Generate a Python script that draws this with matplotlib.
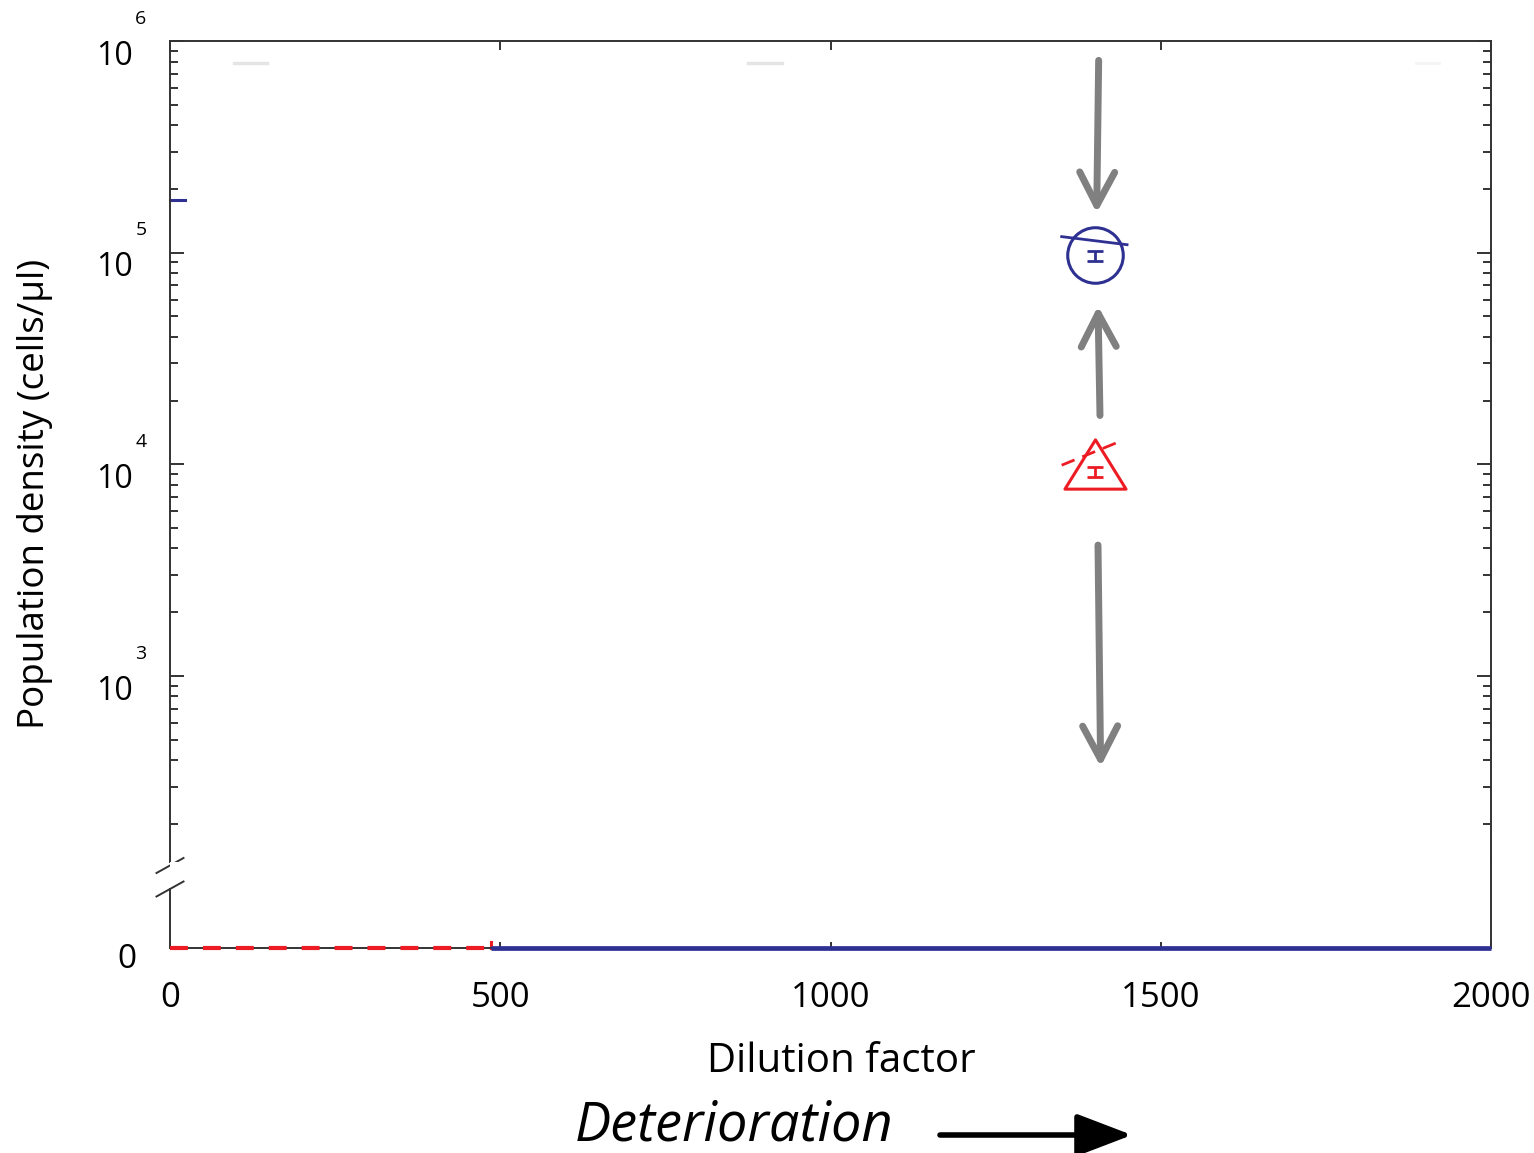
import numpy as np
import matplotlib
matplotlib.use("Agg")
import matplotlib.pyplot as plt
from matplotlib.path import Path
from matplotlib.ticker import LogLocator, NullFormatter

plt.rcParams['font.family'] = ['Open Sans', 'DejaVu Sans']

# ---- data ----
blue_x = [1400]
blue_y = [0.97e5]
blue_err_lo = [0.917e5]
blue_err_hi = [1.022e5]
blue_fit_x = [1350, 1449]
blue_fit_y = [1.19e5, 1.09e5]

red_x = [1400]
red_y = [1.0e4]
red_err_mid = [0.917e4]
red_err_lo = [0.868e4]
red_err_hi = [0.968e4]
red_fit_x = [1350, 1443]
red_fit_y = [0.99e4, 1.30e4]

# extinction lines at zero density
red_zero_x = [0, 486]
blue_zero_x = [486, 2000]

# stray marks
blue_stub_x = [0, 23]
blue_stub_y = [1.78e5, 1.78e5]
grey_marks_x = [[97, 147], [875, 927]]
faint_mark_x = [1886, 1921]
grey_marks_y = 7.9e5

# gray arrows (start, end) in data coords
arrows = [((1406, 8.1e5), (1403, 1.54e5)),
          ((1408, 1.70e4), (1405, 5.6e4)),
          ((1405, 4.15e3), (1409, 3.72e2))]

x_ticks = [0, 500, 1000, 1500, 2000]
y_decades = [3, 4, 5, 6]

BLUE = '#2e3192'
RED = '#ed1c24'
GREY = '#808080'
SPINE = '#333333'

fig = plt.figure(figsize=(15.34, 11.53), dpi=100)
W, H = 1534, 1153
left, width = 170 / W, 1321 / W
ax = fig.add_axes([left, 291 / H, width, 821 / H])
axb = fig.add_axes([left, 205 / H, width, 86 / H])

# ---- top (log) axes ----
ax.set_yscale('log')
ax.set_ylim(132, 1e6)
ax.set_xlim(0, 2000)
ax.spines['bottom'].set_visible(False)
for s in ['top', 'left', 'right']:
    ax.spines[s].set_color(SPINE)
    ax.spines[s].set_linewidth(1.4)
ax.yaxis.set_major_locator(LogLocator(base=10, numticks=10))
ax.yaxis.set_minor_locator(LogLocator(base=10, subs=np.arange(2, 10), numticks=20))
ax.yaxis.set_minor_formatter(NullFormatter())
ax.set_yticklabels([])
ax.tick_params(axis='y', which='major', direction='in', length=10, width=1.4,
               color=SPINE, left=True, right=True, labelleft=False)
ax.tick_params(axis='y', which='minor', direction='in', length=5.8, width=1.4,
               color=SPINE, left=True, right=True)
ax.set_xticks(x_ticks)
ax.tick_params(axis='x', direction='in', length=6.5, width=1.4, color=SPINE,
               top=True, bottom=False, labelbottom=False)

for d in y_decades:
    ax.annotate('10', xy=(0, 10.0 ** d), xycoords=('axes fraction', 'data'),
                xytext=(-27, -11), textcoords='offset points',
                ha='right', va='center', fontsize=23, color='black')
    ax.annotate(str(d), xy=(0, 10.0 ** d), xycoords=('axes fraction', 'data'),
                xytext=(-21, 16), textcoords='offset points',
                ha='center', va='center', fontsize=14, color='black')

# markers
ax.plot(blue_x, blue_y, 'o', ms=40, mfc='none', mec=BLUE, mew=2.2, zorder=4)
ax.errorbar(blue_x, blue_y,
            yerr=[np.subtract(blue_y, blue_err_lo), np.subtract(blue_err_hi, blue_y)],
            fmt='none', ecolor=BLUE, elinewidth=2, capsize=5.8, capthick=2)
ax.plot(blue_fit_x, blue_fit_y, '-', color=BLUE, lw=2)

tri = Path([(0, 1), (-1.24, -1), (1.24, -1), (0, 1)], closed=True)
ax.plot(red_x, red_y, linestyle='none', marker=tri, ms=44, mfc='none', mec=RED,
        mew=2.2, zorder=4)
ax.errorbar(red_x, red_err_mid,
            yerr=[np.subtract(red_err_mid, red_err_lo), np.subtract(red_err_hi, red_err_mid)],
            fmt='none', ecolor=RED, elinewidth=2, capsize=5.8, capthick=2)
ax.plot(red_fit_x, red_fit_y, color=RED, lw=2, dashes=(5, 3))

ax.plot(blue_stub_x, blue_stub_y, color=BLUE, lw=2.2, clip_on=False)
for gx in grey_marks_x:
    ax.plot(gx, [grey_marks_y, grey_marks_y], color='#e4e4e4', lw=2.4)
ax.plot(faint_mark_x, [grey_marks_y, grey_marks_y], color='#f4f4f4', lw=2)

for (x0, y0), (x1, y1) in arrows:
    ax.annotate('', xy=(x1, y1), xytext=(x0, y0),
                arrowprops=dict(arrowstyle='->,head_length=1.2,head_width=0.63',
                                mutation_scale=20, color=GREY, lw=5,
                                shrinkA=0, shrinkB=0))

# ---- bottom (zero) axes ----
axb.set_xlim(0, 2000)
axb.set_ylim(0, 1)
axb.spines['top'].set_visible(False)
for s in ['bottom', 'left', 'right']:
    axb.spines[s].set_color(SPINE)
    axb.spines[s].set_linewidth(1.4)
axb.spines['left'].set_bounds(0, 0.686)
axb.set_yticks([0])
axb.set_yticklabels([])
axb.tick_params(axis='y', length=0)
axb.annotate('0', xy=(0, 0), xycoords=('axes fraction', 'data'),
             xytext=(-24, -8.5), textcoords='offset points',
             ha='right', va='center', fontsize=24)
axb.set_xticks(x_ticks)
axb.set_xticklabels([str(t) for t in x_ticks])
axb.tick_params(axis='x', direction='in', length=4.5, width=1.4, color=SPINE,
                pad=24, labelsize=25)

axb.plot(red_zero_x, [0, 0], color=RED, lw=3, dashes=(4.3, 3.6), clip_on=False,
         solid_capstyle='butt', zorder=5)
axb.plot([red_zero_x[1], red_zero_x[1]], [0, 0.07], color=RED, lw=2.2, clip_on=False)
axb.plot(blue_zero_x, [0, 0], color=BLUE, lw=3.4, clip_on=False,
         solid_capstyle='butt', zorder=5)

# break marks on left spine
dx, dy = 13.5 / 1321, 7.5 / 821
ax.plot([-dx, dx], [-dy - 3.5 / 821, dy - 3.5 / 821], transform=ax.transAxes,
        color=SPINE, lw=1.4, clip_on=False)
dyb = 7.5 / 86
axb.plot([-dx, dx], [0.686 - dyb, 0.686 + dyb], transform=axb.transAxes,
         color=SPINE, lw=1.4, clip_on=False)

# ---- labels ----
fig.text(841 / W, 1 - 1062 / H, 'Dilution factor', ha='center', va='center', fontsize=29)
fig.text(35 / W, 1 - 494 / H, 'Population density (cells/\u00b5l)', ha='center',
         va='center', rotation=90, fontsize=26.5)
fig.text(734 / W, 1 - 1126 / H, 'Deterioration', ha='center', va='center',
         fontsize=39, style='italic')
fig.patches.append(matplotlib.patches.FancyArrowPatch(
    (940 / W, 1 - 1135 / H), (1132 / W, 1 - 1135 / H), transform=fig.transFigure,
    arrowstyle='-|>,head_length=1.7,head_width=0.65', mutation_scale=20,
    color='black', lw=4, shrinkA=0, shrinkB=0))

fig.savefig('out.png', dpi=100)
